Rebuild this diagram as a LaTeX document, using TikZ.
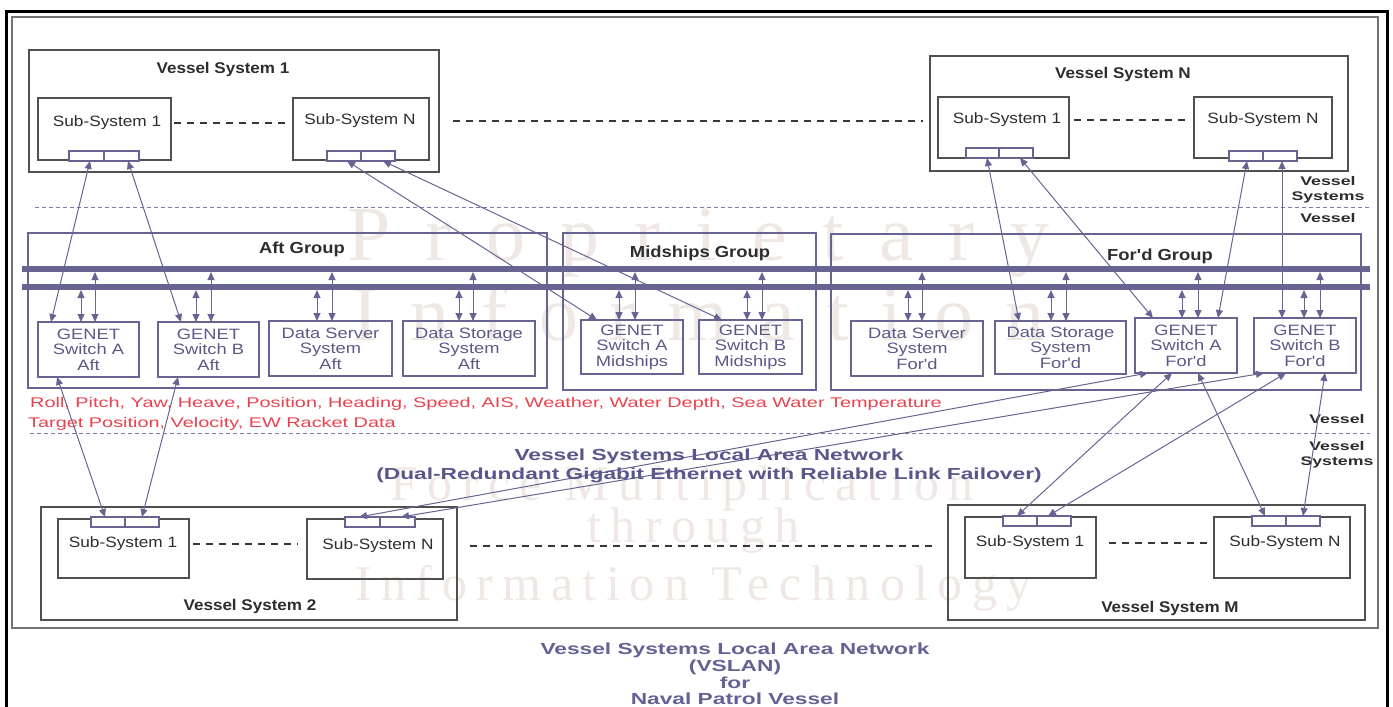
\documentclass[tikz,border=0pt]{standalone}
\usepackage{fontspec}
\setmainfont{Liberation Sans}
\newfontfamily\fsa{Liberation Sans}[FakeStretch=1.10]
\newfontfamily\fsb{Liberation Sans}[FakeStretch=1.15]
\newfontfamily\fsc{Liberation Sans}[FakeStretch=1.22]
\newfontfamily\fsd{Liberation Sans}[FakeStretch=1.42]
\newfontfamily\wmA{Liberation Serif}[LetterSpace=45]
\newfontfamily\wmB{Liberation Serif}[LetterSpace=41]
\newfontfamily\wmC{Liberation Serif}[LetterSpace=19]
\usetikzlibrary{arrows.meta}
\definecolor{purp}{RGB}{104,100,146}
\definecolor{gtxt}{RGB}{92,88,135}
\definecolor{boxgray}{RGB}{80,80,80}
\definecolor{dashgray}{RGB}{55,55,55}
\definecolor{sepcol}{RGB}{125,122,170}
\definecolor{redtxt}{RGB}{232,66,78}
\definecolor{bluetxt}{RGB}{88,86,138}
\definecolor{btmtxt}{RGB}{100,98,148}
\definecolor{wmcol}{RGB}{240,232,229}
\definecolor{darktxt}{RGB}{45,45,45}
\begin{document}
\begin{tikzpicture}[x=1pt,y=-1pt,
 vbox/.style={draw=boxgray,line width=1.3pt,inner sep=0pt,outer sep=0pt,anchor=north west},
 port/.style={draw=purp,line width=2.4pt,fill=white,inner sep=0pt,outer sep=0pt,anchor=north west,minimum height=10pt},
 grp/.style={draw=purp,line width=2.6pt,inner sep=0pt,outer sep=0pt,anchor=north west},
 ubox/.style={draw=purp,line width=2.6pt,inner sep=0pt,outer sep=0pt,anchor=north west,align=center,text=gtxt,font=\fsc\fontsize{15}{15.5}\selectfont},
 sstxt/.style={text=darktxt,font=\fsb\fontsize{15}{15}\selectfont,inner sep=0pt},
 vtitle/.style={text=darktxt,font=\fsa\bfseries\fontsize{15.5}{16}\selectfont,inner sep=0pt},
 gtitle/.style={text=darktxt,font=\fsb\bfseries\fontsize{16}{16}\selectfont,inner sep=0pt},
 side/.style={text=darktxt,font=\fsd\bfseries\fontsize{12.5}{14.5}\selectfont,inner sep=0pt,align=center},
 redline/.style={text=redtxt,font=\fsd\fontsize{14}{14}\selectfont,inner sep=0pt,anchor=west},
 link/.style={draw=purp,line width=1pt,{Triangle[length=8pt,width=7pt]}-{Triangle[length=8pt,width=7pt]}},
 bus/.style={draw=purp,line width=6pt},
 ssdash/.style={draw=dashgray,line width=1.8pt,dash pattern=on 7pt off 6pt},
 sepline/.style={draw=sepcol,line width=0.9pt,dash pattern=on 4pt off 3pt},
 wmark/.style={text=wmcol,inner sep=0pt,anchor=base west}]
\useasboundingbox (0,0) rectangle (1393,707);

% watermark
\node[wmark,font=\wmA\fontsize{78}{78}\selectfont] (wm1) at (347,260) {Proprietary};
\node[wmark,font=\wmB\fontsize{78}{78}\selectfont] (wm2) at (352,340) {Information};
\node[wmark,font=\wmC\fontsize{50}{50}\selectfont] (wm3) at (390,500) {Force Multiplication};
\node[wmark,font=\wmC\fontsize{50}{50}\selectfont] (wm4) at (587,542) {through};
\node[wmark,font=\wmC\fontsize{50}{50}\selectfont] (wm5) at (355,600) {Information Technology};

% frames
\draw[line width=3pt,black] (6,720) -- (6,11) -- (1387,11) -- (1387,720);
\draw[line width=1.3pt,black!55] (12,17) rectangle (1378,628);

% separators
\draw[sepline] (35,207) -- (1372,207);
\draw[sepline] (30,433) -- (1370,433);
\node[side] (lvs1) at (1328,190) {Vessel\\Systems};
\node[side] (lv1) at (1328,218) {Vessel};
\node[side] (lv2) at (1337,419) {Vessel};
\node[side] (lvs2) at (1337,455) {Vessel\\Systems};

% groups
\node[grp,minimum width=519pt,minimum height=155pt] (aft) at (28,233) {};
\node[grp,minimum width=253pt,minimum height=157pt] (mid) at (563,233) {};
\node[grp,minimum width=530pt,minimum height=156pt] (ford) at (831,234) {};
\node[gtitle] (aftt) at (302,249) {Aft Group};
\node[gtitle] (midt) at (700,253) {Midships Group};
\node[gtitle] (fordt) at (1160,256) {For'd Group};

% units
\node[ubox,minimum width=101pt,minimum height=55pt] (gaa) at (38,322) {GENET\\Switch A\\Aft};
\node[ubox,minimum width=101pt,minimum height=55pt] (gba) at (158,322) {GENET\\Switch B\\Aft};
\node[ubox,minimum width=123pt,minimum height=55pt] (dsa) at (269,321) {Data Server\\System\\Aft};
\node[ubox,minimum width=132pt,minimum height=55pt] (dta) at (403,321) {Data Storage\\System\\Aft};
\node[ubox,minimum width=102pt,minimum height=54pt] (gam) at (581,320) {GENET\\Switch A\\Midships};
\node[ubox,minimum width=103pt,minimum height=54pt] (gbm) at (699,320) {GENET\\Switch B\\Midships};
\node[ubox,minimum width=132pt,minimum height=55pt] (dsf) at (851,321) {Data Server\\System\\For'd};
\node[ubox,minimum width=131pt,minimum height=53pt] (dtf) at (995,321) {Data Storage\\System\\For'd};
\node[ubox,minimum width=102pt,minimum height=55pt] (gaf) at (1135,318) {GENET\\Switch A\\For'd};
\node[ubox,minimum width=102pt,minimum height=55pt] (gbf) at (1254,318) {GENET\\Switch B\\For'd};

% buses
\coordinate (busA) at (0,272);
\coordinate (busB) at (0,290);
\foreach \xa/\xb/\u in {81/95/gaa,196/211/gba,317/332/dsa,459/473/dta,619/635/gam,747/762/gbm,908/922/dsf,1051/1066/dtf,1182/1198/gaf,1304/1320/gbf}{
  \draw[link] (\xa,0 |- busB) -- (\xa,0 |- \u.north);
  \draw[link] (\xb,0 |- busA) -- (\xb,0 |- \u.north);
}
\draw[bus] (22,269) -- (1370,269);
\draw[bus] (22,287) -- (1370,287);

% vessel system 1
\node[vbox,minimum width=410pt,minimum height=122pt] (vs1) at (29,50) {};
\node[vtitle] (vs1t) at (223,69) {Vessel System 1};
\node[vbox,minimum width=133pt,minimum height=62pt] (s11) at (38,98) {};
\node[sstxt] (s11t) at (107,123) {Sub-System 1};
\node[vbox,minimum width=136pt,minimum height=62pt] (s1n) at (293,98) {};
\node[sstxt] (s1nt) at (360,121) {Sub-System N};
\node[port,minimum width=35pt] (p11a) at (69,151) {};
\node[port,minimum width=35pt] (p11b) at (104,151) {};
\node[port,minimum width=34pt] (p1na) at (327,151) {};
\node[port,minimum width=34pt] (p1nb) at (361,151) {};
\draw[ssdash,shorten <=3pt,shorten >=6pt] (s11t -| s11.east) -- (s11t -| s1n.west);

% vessel system N
\node[vbox,minimum width=418pt,minimum height=115pt] (vsn) at (930,56) {};
\node[vtitle] (vsnt) at (1123,74) {Vessel System N};
\node[vbox,minimum width=131pt,minimum height=61pt] (sn1) at (938,97) {};
\node[sstxt] (sn1t) at (1007,120) {Sub-System 1};
\node[vbox,minimum width=138pt,minimum height=61pt] (snn) at (1194,97) {};
\node[sstxt] (snnt) at (1263,120) {Sub-System N};
\node[port,minimum width=33pt] (pn1a) at (966,148) {};
\node[port,minimum width=34pt] (pn1b) at (999,148) {};
\node[port,minimum width=34pt] (pnna) at (1229,151) {};
\node[port,minimum width=34pt] (pnnb) at (1263,151) {};
\draw[ssdash,shorten <=5pt,shorten >=8pt] (sn1t -| sn1.east) -- (sn1t -| snn.west);
\draw[ssdash,shorten <=14pt,shorten >=7pt] (s1nt -| vs1.east) -- (s1nt -| vsn.west);

% vessel system 2
\node[vbox,minimum width=416pt,minimum height=113pt] (vs2) at (41,507) {};
\node[vtitle] (vs2t) at (250,606) {Vessel System 2};
\node[vbox,minimum width=131pt,minimum height=59pt] (s21) at (58,519) {};
\node[sstxt] (s21t) at (123,544) {Sub-System 1};
\node[vbox,minimum width=136pt,minimum height=60pt] (s2n) at (307,519) {};
\node[sstxt] (s2nt) at (378,546) {Sub-System N};
\node[port,minimum width=34pt] (p21a) at (91,517) {};
\node[port,minimum width=34pt] (p21b) at (125,517) {};
\node[port,minimum width=35pt] (p2na) at (345,517) {};
\node[port,minimum width=35pt] (p2nb) at (380,517) {};
\draw[ssdash,shorten <=4pt,shorten >=9pt] (s21t -| s21.east) -- (s21t -| s2n.west);

% vessel system M
\node[vbox,minimum width=417pt,minimum height=115pt] (vsm) at (948,505) {};
\node[vtitle] (vsmt) at (1170,608) {Vessel System M};
\node[vbox,minimum width=131pt,minimum height=61pt] (sm1) at (965,517) {};
\node[sstxt] (sm1t) at (1030,543) {Sub-System 1};
\node[vbox,minimum width=136pt,minimum height=61pt] (smn) at (1214,517) {};
\node[sstxt] (smnt) at (1285,543) {Sub-System N};
\node[port,minimum width=34pt] (pm1a) at (1003,516) {};
\node[port,minimum width=34pt] (pm1b) at (1037,516) {};
\node[port,minimum width=34pt] (pmna) at (1252,516) {};
\node[port,minimum width=34pt] (pmnb) at (1286,516) {};
\draw[ssdash,shorten <=13pt,shorten >=1pt] (sm1t -| sm1.east) -- (sm1t -| smn.west);
\draw[ssdash,shorten <=13pt,shorten >=10pt] (s2nt -| vs2.east) -- (s2nt -| vsm.west);

% cross links
\draw[link] (90,0 |- p11a.south) -- (51,0 |- gaa.north);
\draw[link] (128,0 |- p11b.south) -- (181,0 |- gba.north);
\draw[link] (347,0 |- p1na.south) -- (597,0 |- gam.north);
\draw[link] (383,0 |- p1nb.south) -- (722,0 |- gbm.north);
\draw[link] (987,0 |- pn1a.south) -- (1019,0 |- dtf.north);
\draw[link] (1020,0 |- pn1b.south) -- (1153,0 |- gaf.north);
\draw[link] (1247,0 |- pnna.south) -- (1218,0 |- gaf.north);
\draw[link] (1282,0 |- pnnb.south) -- (1282,0 |- gbf.north);
\draw[link] (57,0 |- gaa.south) -- (105,0 |- p21a.north);
\draw[link] (178,0 |- gba.south) -- (142,0 |- p21b.north);
\draw[link] (1148,0 |- gaf.south) -- (359,0 |- p2na.north);
\draw[link] (1264,0 |- gbf.south) -- (401,0 |- p2nb.north);
\draw[link] (1172,0 |- gaf.south) -- (1017,0 |- pm1a.north);
\draw[link] (1286,0 |- gbf.south) -- (1048,0 |- pm1b.north);
\draw[link] (1198,0 |- gaf.south) -- (1265,0 |- pmna.north);
\draw[link] (1325,0 |- gbf.south) -- (1303,0 |- pmnb.north);

% texts
\node[redline] (r1) at (30,404) {Roll, Pitch, Yaw, Heave, Position, Heading, Speed, AIS, Weather, Water Depth, Sea Water Temperature};
\node[redline] (r2) at (28,424) {Target Position, Velocity, EW Racket Data};
\node[align=center,text=bluetxt,inner sep=0pt,font=\fsd\bfseries\fontsize{16}{19}\selectfont] (lan) at (709,466) {Vessel Systems Local Area Network\\(Dual-Redundant Gigabit Ethernet with Reliable Link Failover)};
\node[align=center,text=btmtxt,inner sep=0pt,font=\fsd\bfseries\fontsize{16}{16.7}\selectfont] (ttl) at (735,674) {Vessel Systems Local Area Network\\(VSLAN)\\for\\Naval Patrol Vessel};
\end{tikzpicture}
\end{document}
